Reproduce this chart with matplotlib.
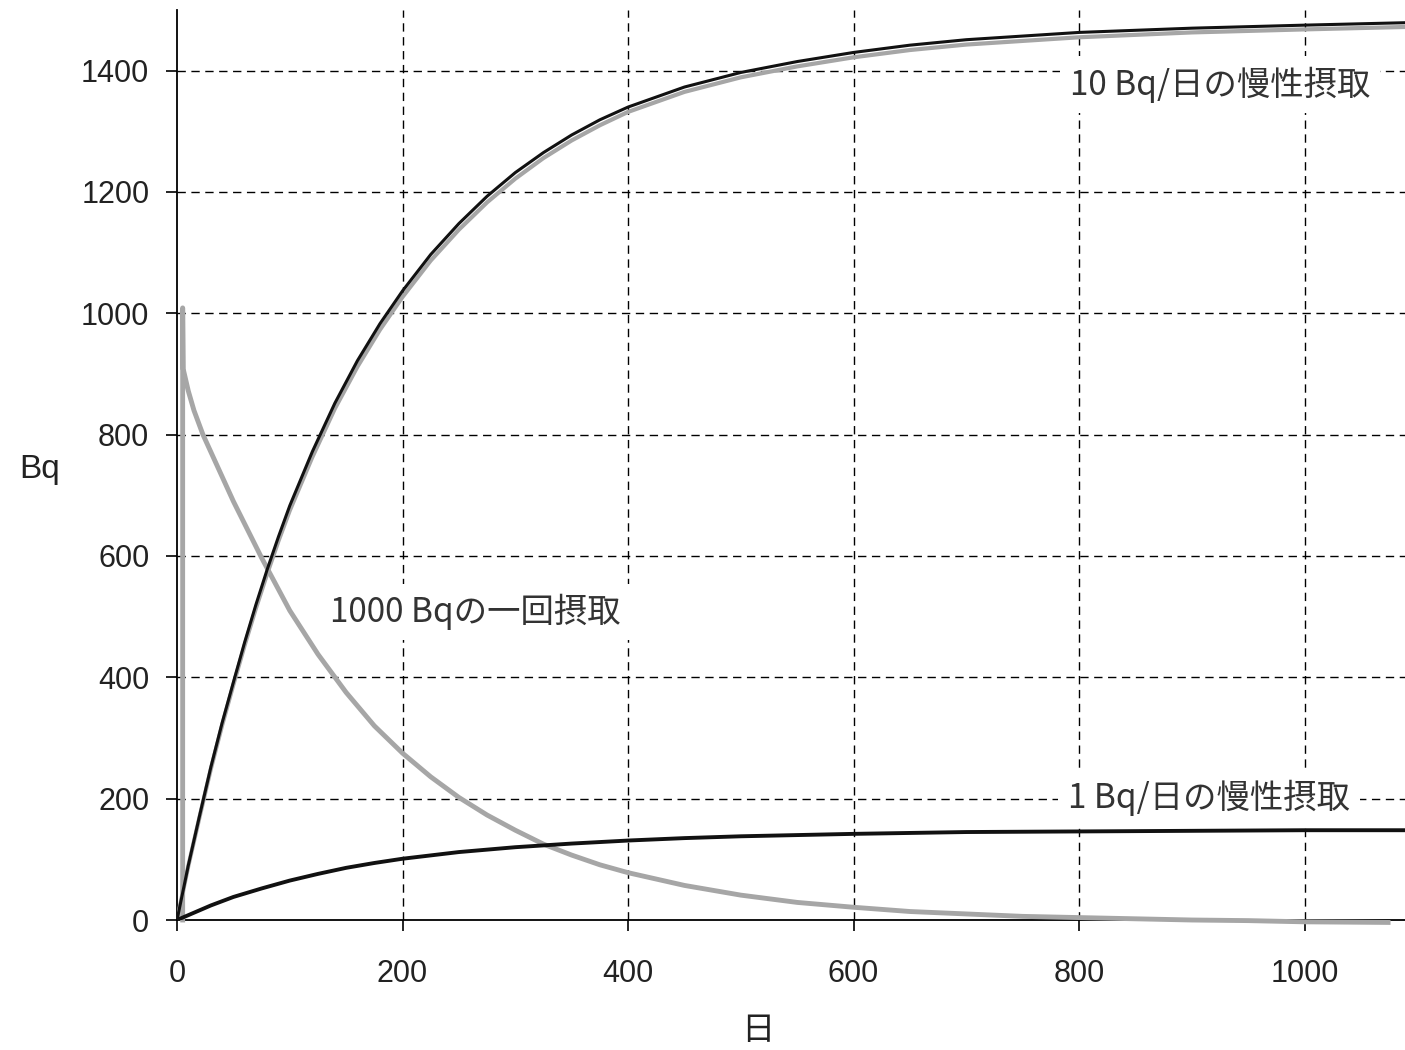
import matplotlib
matplotlib.use('Agg')
import matplotlib.pyplot as plt

plt.rcParams['font.family'] = ['Liberation Sans', 'Noto Sans CJK JP', 'DejaVu Sans']

# 10 Bq/日の慢性摂取 (黒線 + 灰色線)
days_10 = [0, 10, 20, 30, 40, 50, 60, 70, 80, 90, 100, 120, 140, 160, 180, 200, 225, 250,
           275, 300, 325, 350, 375, 400, 450, 500, 550, 600, 650, 700, 800, 900, 1000, 1089]
bq_10 = [0, 90, 172, 252, 325, 392, 458, 520, 578, 632, 683, 772, 852, 922, 983, 1037, 1097,
         1148, 1193, 1232, 1265, 1294, 1319, 1340, 1373, 1397, 1415, 1430, 1442, 1451, 1463,
         1470, 1475, 1479]
bq_10_grey = [0, 89, 170, 249, 321, 388, 453, 514, 571, 625, 675, 763, 843, 912, 973, 1027,
              1087, 1138, 1183, 1222, 1256, 1285, 1310, 1332, 1365, 1389, 1407, 1422, 1434,
              1443, 1455, 1463, 1468, 1472]

# 1000 Bqの一回摂取
days_once = [5, 5, 5.5, 10, 15, 23, 50, 75, 100, 125, 150, 175, 200, 225, 250, 275, 300,
             325, 350, 375, 400, 450, 500, 550, 600, 650, 700, 750, 800, 850, 900, 950,
             1000, 1074]
bq_once = [0, 1009, 908, 872, 840, 800, 690, 597, 510, 438, 375, 320, 275, 236, 202, 173,
           148, 125, 107, 91, 78, 57, 41, 29, 21, 14, 10, 6, 4, 2, 0, -1, -3, -4]

# 1 Bq/日の慢性摂取
days_1 = [0, 10, 20, 30, 40, 50, 75, 100, 125, 150, 175, 200, 250, 300, 350, 400, 450, 500,
          600, 700, 800, 900, 1000, 1089]
bq_1 = [0, 8, 16, 24, 31, 38, 52, 65, 76, 86, 94, 101, 112, 120, 126, 131, 135, 138,
        142, 145, 146, 147, 148, 148]

xticks = [0, 200, 400, 600, 800, 1000]
yticks = [0, 200, 400, 600, 800, 1000, 1200, 1400]

fig = plt.figure(figsize=(14.05, 10.5), dpi=100)
ax = fig.add_axes([0.126, 0.1238, 0.874, 0.8667])

grid_kw = dict(color='black', lw=1.0, linestyle=(0, (6, 4)), zorder=1)
for x in xticks[1:]:
    ax.axvline(x, **grid_kw)
for y in yticks[1:]:
    ax.axhline(y, **grid_kw)

ax.plot(days_once, bq_once, color='#a6a6a6', lw=3.5, zorder=3, clip_on=False,
        solid_joinstyle='round')
ax.plot(days_10, bq_10_grey, color='#a6a6a6', lw=3, zorder=3)
ax.plot(days_10, bq_10, color='#111111', lw=2.2, zorder=4)
ax.plot(days_1, bq_1, color='#111111', lw=2.8, zorder=4)

ax.set_xlim(0, 1089)
ax.set_ylim(0, 1500)
ax.set_xticks(xticks)
ax.set_yticks(yticks)
ax.tick_params(axis='both', labelsize=22, color='black', length=8, width=1.2,
               labelcolor='#222222')
ax.tick_params(axis='x', pad=20)
ax.tick_params(axis='y', pad=12)
for s in ['top', 'right']:
    ax.spines[s].set_visible(False)
for s in ['left', 'bottom']:
    ax.spines[s].set_linewidth(1.3)

ax.set_ylabel('Bq', fontsize=24, rotation=0, color='#222222', va='center', ha='center')
ax.yaxis.set_label_coords(-0.1116, 0.4945)
ax.set_xlabel('日', fontsize=24, color='#222222', family=['Noto Sans CJK JP'], va='center')
ax.xaxis.set_label_coords(0.473, -0.121)

lbl = dict(fontsize=24, color='#333333', family=['Noto Sans CJK JP'], va='center', ha='left',
           zorder=5, bbox=dict(boxstyle='square,pad=0.3', fc='white', ec='none'))
ax.text(792, 1377, '10 Bq/日の慢性摂取', **lbl)
ax.text(136, 508, '1000 Bqの一回摂取', **lbl)
ax.text(790, 201, '1 Bq/日の慢性摂取', **lbl)

fig.savefig('out.png', dpi=100)
